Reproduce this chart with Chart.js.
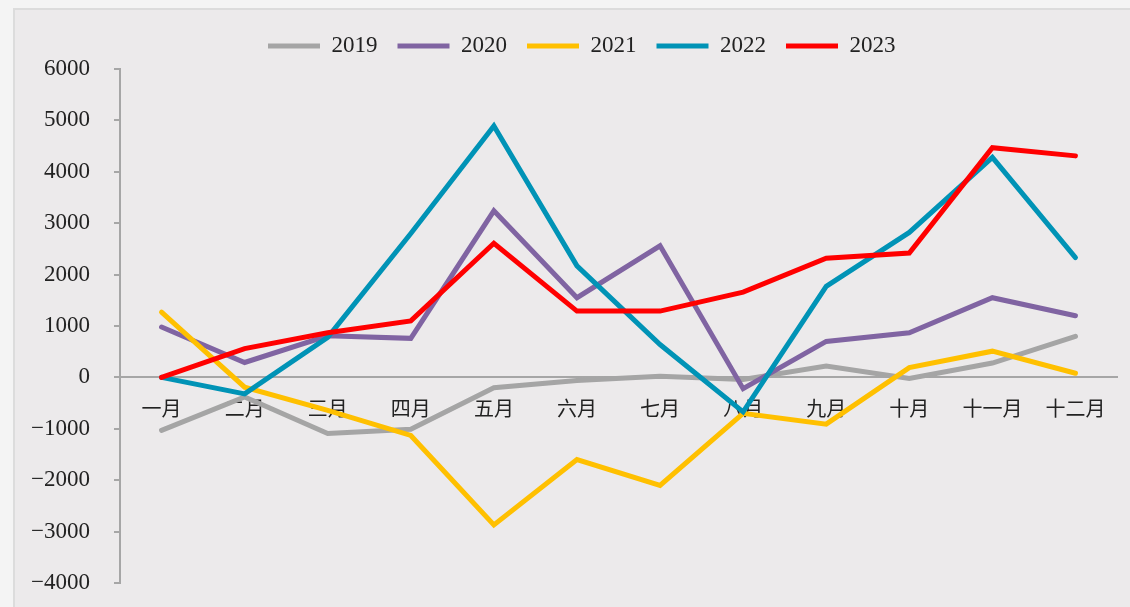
<!DOCTYPE html>
<html>
<head>
<meta charset="utf-8">
<script src="https://cdn.jsdelivr.net/npm/chart.js@4/dist/chart.umd.min.js"></script>
<style>
  html, body { margin: 0; padding: 0; background: #f4f4f4; overflow: hidden; }
  #panel { position: absolute; left: 13px; top: 8px; width: 1140px; height: 620px;
           background: #eceaeb; border: 2px solid #dcdcdc; box-sizing: border-box; }
  #wrap { position: absolute; left: 0; top: 0; width: 1130px; height: 607px; }
</style>
</head>
<body>
<div id="panel"></div>
<div id="wrap"><canvas id="chart"></canvas></div>
<script>
const months = ['一月', '二月', '三月', '四月', '五月', '六月', '七月', '八月', '九月', '十月', '十一月', '十二月'];

const y2019 = [-1030, -380, -1090, -1010, -200, -60, 20, -40, 220, -20, 280, 800];
const y2020 = [980, 290, 810, 760, 3240, 1550, 2560, -220, 700, 870, 1550, 1200];
const y2021 = [1270, -190, -640, -1130, -2870, -1600, -2100, -700, -910, 190, 510, 80];
const y2022 = [0, -320, 780, 2800, 4890, 2170, 640, -670, 1770, 2820, 4280, 2330];
const y2023 = [0, 560, 870, 1100, 2610, 1290, 1290, 1660, 2320, 2420, 4470, 4310];

const yMin = -4000, yMax = 6000, yStep = 1000;

const axisGray = '#a6a6a6';
const serif = "'Liberation Serif', 'DejaVu Serif', serif";

function line(label, data, color, order) {
  return {
    label, data, order,
    borderColor: color,
    backgroundColor: color,
    borderWidth: 5,
    borderCapStyle: 'round',
    borderJoinStyle: 'miter',
    pointRadius: 0,
    tension: 0,
    fill: false
  };
}

// legend sits a little lower and to the right, like the excel original
const legendTweak = {
  id: 'legendTweak',
  beforeInit(chart) {
    const fit = chart.legend.fit;
    chart.legend.fit = function () { fit.call(this); this.height += 1.5; };
  },
  afterLayout(chart) {
    chart.legend.left = 46.5;
  }
};

new Chart(document.getElementById('chart'), {
  type: 'line',
  data: {
    labels: months,
    datasets: [
      line('2019', y2019, '#a5a5a5', 5),
      line('2020', y2020, '#8064a2', 4),
      line('2021', y2021, '#ffc000', 3),
      line('2022', y2022, '#0093b6', 2),
      line('2023', y2023, '#ff0000', 1)
    ]
  },
  plugins: [legendTweak],
  options: {
    responsive: true,
    maintainAspectRatio: false,
    animation: false,
    layout: { padding: { left: 0, right: 13, top: 14.5, bottom: 24 } },
    plugins: {
      legend: {
        position: 'top',
        labels: {
          usePointStyle: true,
          pointStyle: 'line',
          pointStyleWidth: 52,
          padding: 20,
          color: '#222',
          font: { family: serif, size: 23 },
          sort: (a, b) => a.datasetIndex - b.datasetIndex
        }
      },
      tooltip: { enabled: false }
    },
    scales: {
      x: {
        position: { y: 0 },
        offset: true,
        grid: { display: true, drawOnChartArea: false, drawTicks: false },
        border: { display: true, color: axisGray, width: 2 },
        ticks: { color: '#222', padding: 19, maxRotation: 0, autoSkip: false,
                 font: { family: "'Noto Sans CJK SC', sans-serif", size: 20 } }
      },
      y: {
        min: yMin, max: yMax,
        afterFit: s => { s.width = 120; s.paddingBottom = 0; },
        grid: { drawOnChartArea: false, drawTicks: true, tickLength: 6, color: axisGray, lineWidth: 2 },
        border: { display: true, color: axisGray, width: 2 },
        ticks: {
          stepSize: yStep, padding: 24, color: '#222',
          font: { family: serif, size: 23 },
          callback: v => String(v).replace('-', '\u2212')
        }
      }
    }
  }
});
</script>
</body>
</html>
